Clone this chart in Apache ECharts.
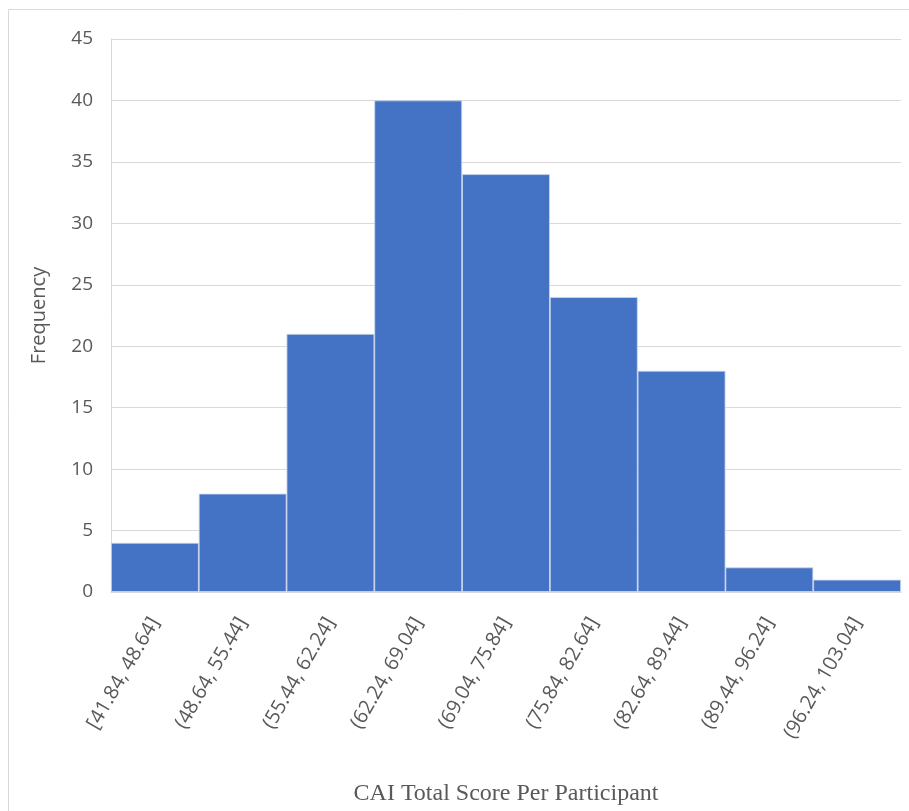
<!DOCTYPE html>
<html>
<head>
<meta charset="utf-8">
<script src="https://cdn.jsdelivr.net/npm/echarts@6/dist/echarts.min.js"></script>
<style>
html, body { margin: 0; padding: 0; background: #fff; }
#chart { width: 909px; height: 811px; }
</style>
</head>
<body>
<div id="chart"></div>
<script>
// bins and counts
var binLabels = ['[41.84, 48.64]', '(48.64, 55.44]', '(55.44, 62.24]', '(62.24, 69.04]',
    '(69.04, 75.84]', '(75.84, 82.64]', '(82.64, 89.44]', '(89.44, 96.24]', '(96.24, 103.04]'];
var frequencies = [4, 8, 21, 40, 34, 24, 18, 2, 1];
var yTicks = [0, 5, 10, 15, 20, 25, 30, 35, 40, 45];

var myChart = echarts.init(document.getElementById('chart'));
var option = {
    backgroundColor: '#fff',
    animation: false,
    graphic: [{
        type: 'rect',
        shape: { x: 8.5, y: 9.5, width: 920, height: 820 },
        style: { fill: 'none', stroke: '#d9d9d9', lineWidth: 1 },
        silent: true
    }],
    grid: { left: 111, right: 8, top: 39, bottom: 218 },
    xAxis: {
        type: 'category',
        data: binLabels,
        name: 'CAI Total Score Per Participant',
        nameLocation: 'middle',
        nameGap: 190,
        nameTextStyle: { fontFamily: 'Liberation Serif', fontSize: 24, color: '#595959' },
        axisLine: { show: true, lineStyle: { color: '#d9d9d9', width: 1 } },
        axisTick: { show: false },
        axisLabel: {
            interval: 0,
            rotate: 60,
            margin: 27,
            fontFamily: 'Open Sans',
            fontSize: 20,
            color: '#595959'
        }
    },
    yAxis: {
        type: 'value',
        min: 0,
        max: yTicks[yTicks.length - 1],
        interval: 5,
        name: 'Frequency',
        nameLocation: 'middle',
        nameGap: 62,
        nameRotate: 90,
        nameTextStyle: { fontFamily: 'Open Sans', fontSize: 20, color: '#595959' },
        axisLine: { show: true, lineStyle: { color: '#d9d9d9', width: 1 } },
        axisTick: { show: false },
        axisLabel: { margin: 18, fontFamily: 'Open Sans', fontSize: 19, color: '#595959' },
        splitLine: { lineStyle: { color: '#d9d9d9', width: 1 } }
    },
    series: [{
        type: 'bar',
        data: frequencies,
        barCategoryGap: 0,
        itemStyle: { color: '#4472C4', borderColor: '#c9d5ee', borderWidth: 0.8 }
    }]
};
myChart.setOption(option);
window.onresize = myChart.resize;
</script>
</body>
</html>
